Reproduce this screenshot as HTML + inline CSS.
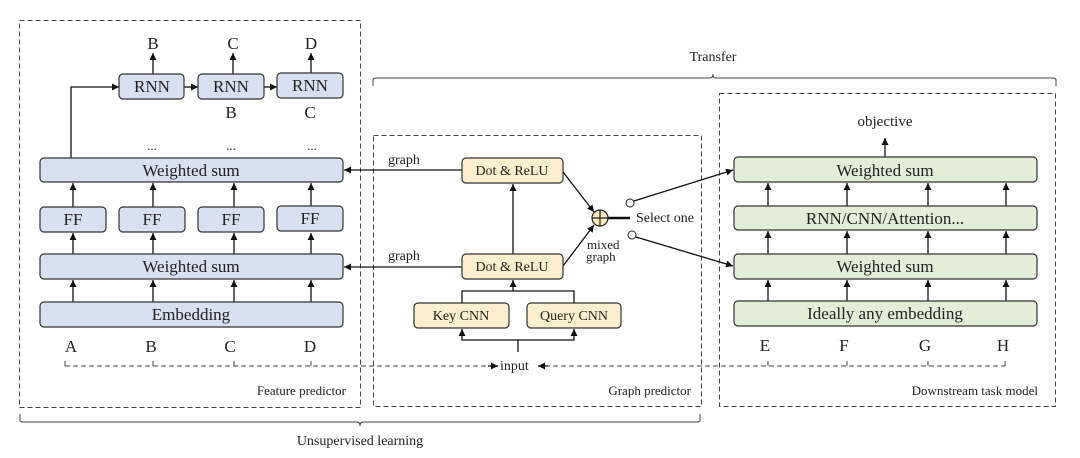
<!DOCTYPE html>
<html><head><meta charset="utf-8"><style>
html,body{margin:0;padding:0;background:#fff;width:1080px;height:458px;overflow:hidden}
svg text{font-family:"Liberation Serif","DejaVu Serif",serif !important;fill:#222}
</style></head><body>
<svg width="1080" height="458" viewBox="0 0 1080 458" xmlns="http://www.w3.org/2000/svg" font-family="Liberation Serif, DejaVu Serif, serif">
<defs>
<marker id="a" markerWidth="8" markerHeight="8" refX="7" refY="4" orient="auto" markerUnits="userSpaceOnUse"><path d="M0,0.5 L7,4 L0,7.5 z" fill="#111"/></marker>
</defs>
<g fill="none" stroke="#444" stroke-width="1" stroke-dasharray="5,3">
<rect x="19.5" y="20.5" width="341" height="387"/>
<rect x="373.5" y="135.5" width="328" height="271"/>
<rect x="719.5" y="93.5" width="336" height="313"/>
<path d="M65 366 H492 M545 366 H1005"/>
</g>
<g stroke="#444" stroke-width="1" fill="none">
<path d="M65 366 v-5 M153 366 v-5 M234 366 v-5 M311 366 v-5 M768 366 v-5 M847 366 v-5 M928 366 v-5 M1005 366 v-5"/>
<path d="M20 414 v6 q0 2 3 2 H357 q3 0 3 4 q0 -4 3 -4 H697 q3 0 3 -2 v-6"/>
<path d="M373 86 v-6 q0 -2 3 -2 H710 q3 0 3 -4 q0 4 3 4 H1053 q3 0 3 2 v6"/>
</g>
<g stroke="#111" stroke-width="1.3" fill="none" marker-end="url(#a)">
<path d="M488 366 H498"/><path d="M548 366 H538"/>
<path d="M153 74 V53"/><path d="M233 74 V53"/><path d="M311 73 V53"/>
<path d="M184 87 H198"/><path d="M264 87 H277"/>
<path d="M71 158 V87 H119"/>
<path d="M73 207 V183"/><path d="M153 207 V183"/><path d="M234 207 V183"/><path d="M311 207 V183"/>
<path d="M73 254 V233"/><path d="M153 254 V233"/><path d="M234 254 V233"/><path d="M311 254 V233"/>
<path d="M73 302 V280"/><path d="M153 302 V280"/><path d="M234 302 V280"/><path d="M311 302 V280"/>
<path d="M462 170 H344"/><path d="M462 267 H344"/>
<path d="M513 254 V184"/>
<path d="M462 303 V291 H574 V303" marker-end="none"/><path d="M513 291 V280"/>
<path d="M518 352 V340 H462 V329" /><path d="M518 340 H574 V329"/>
<path d="M563 172 L594 212"/><path d="M563 266 L594 225"/>
<path d="M634 201 L733 170"/><path d="M636 237 L733 266"/>
<path d="M885 157 V138"/>
<path d="M768 206 V183"/><path d="M847 206 V183"/><path d="M928 206 V183"/><path d="M1006 206 V183"/>
<path d="M768 254 V231"/><path d="M847 254 V231"/><path d="M928 254 V231"/><path d="M1006 254 V231"/>
<path d="M768 301 V280"/><path d="M847 301 V280"/><path d="M928 301 V280"/><path d="M1006 301 V280"/>
</g>
<path d="M608 218 H630" stroke="#111" stroke-width="2.5"/>
<circle cx="630" cy="203" r="4" fill="#fff" stroke="#222"/>
<circle cx="632" cy="235" r="4" fill="#fff" stroke="#222"/>
<circle cx="600" cy="218" r="8" fill="#fbe7b8" stroke="#222" stroke-width="1.2"/>
<path d="M592 218 H608 M600 210 V226" stroke="#222" stroke-width="1.2"/>
<g stroke="#333" stroke-width="1.2" fill="#d8e1f1">
<rect x="119" y="74" width="65" height="25" rx="4"/>
<rect x="198" y="74" width="66" height="25" rx="4"/>
<rect x="277" y="73" width="66" height="25" rx="4"/>
<rect x="40" y="158" width="303" height="24" rx="4"/>
<rect x="40" y="207" width="66" height="25" rx="4"/>
<rect x="119" y="207" width="66" height="25" rx="4"/>
<rect x="198" y="207" width="66" height="25" rx="4"/>
<rect x="277" y="206" width="66" height="25" rx="4"/>
<rect x="40" y="254" width="303" height="25" rx="4"/>
<rect x="40" y="302" width="303" height="25" rx="4"/>
</g>
<g stroke="#333" stroke-width="1.2" fill="#fcefcd">
<rect x="462" y="158" width="101" height="25" rx="4"/>
<rect x="462" y="254" width="101" height="25" rx="4"/>
<rect x="414" y="303" width="95" height="25" rx="4"/>
<rect x="527" y="303" width="94" height="25" rx="4"/>
</g>
<g stroke="#333" stroke-width="1.2" fill="#e2eed8">
<rect x="734" y="157" width="303" height="25" rx="4"/>
<rect x="734" y="206" width="303" height="24" rx="4"/>
<rect x="734" y="254" width="303" height="25" rx="4"/>
<rect x="734" y="301" width="303" height="25" rx="4"/>
</g>
<g font-size="17" text-anchor="middle">
<text x="152" y="92">RNN</text><text x="231" y="92">RNN</text><text x="310" y="91">RNN</text>
<text x="153" y="49">B</text><text x="233" y="49">C</text><text x="311" y="49">D</text>
<text x="231" y="118">B</text><text x="310" y="118">C</text>
<text x="152" y="150" font-size="13">...</text><text x="231" y="150" font-size="13">...</text><text x="312" y="150" font-size="13">...</text>
<text x="191" y="176">Weighted sum</text>
<text x="73" y="225">FF</text><text x="152" y="225">FF</text><text x="231" y="225">FF</text><text x="310" y="224">FF</text>
<text x="191" y="272">Weighted sum</text>
<text x="191" y="320">Embedding</text>
<text x="71" y="352">A</text><text x="151" y="352">B</text><text x="230" y="352">C</text><text x="310" y="352">D</text>
<text x="885" y="176">Weighted sum</text>
<text x="885" y="224">RNN/CNN/Attention...</text>
<text x="885" y="272">Weighted sum</text>
<text x="885" y="319">Ideally any embedding</text>
<text x="885" y="126" font-size="15">objective</text>
<text x="765" y="351">E</text><text x="844" y="351">F</text><text x="925" y="351">G</text><text x="1003" y="351">H</text>
</g>
<g font-size="14" text-anchor="middle">
<text x="512" y="175">Dot &amp; ReLU</text>
<text x="512" y="271">Dot &amp; ReLU</text>
<text x="461" y="320">Key CNN</text>
<text x="574" y="320">Query CNN</text>
</g>
<g font-size="14">
<text x="388" y="164">graph</text><text x="388" y="260">graph</text>
<text x="500" y="370">input</text>
<text x="636" y="222">Select one</text>
<text x="587" y="249" font-size="13">mixed</text><text x="586" y="261" font-size="13">graph</text>
<text x="713" y="61" text-anchor="middle">Transfer</text>
<text x="360" y="445" text-anchor="middle">Unsupervised learning</text>
<text x="346" y="395" text-anchor="end" font-size="13">Feature predictor</text>
<text x="691" y="395" text-anchor="end" font-size="13">Graph predictor</text>
<text x="1038" y="395" text-anchor="end" font-size="13">Downstream task model</text>
</g>
</svg>
</body></html>
